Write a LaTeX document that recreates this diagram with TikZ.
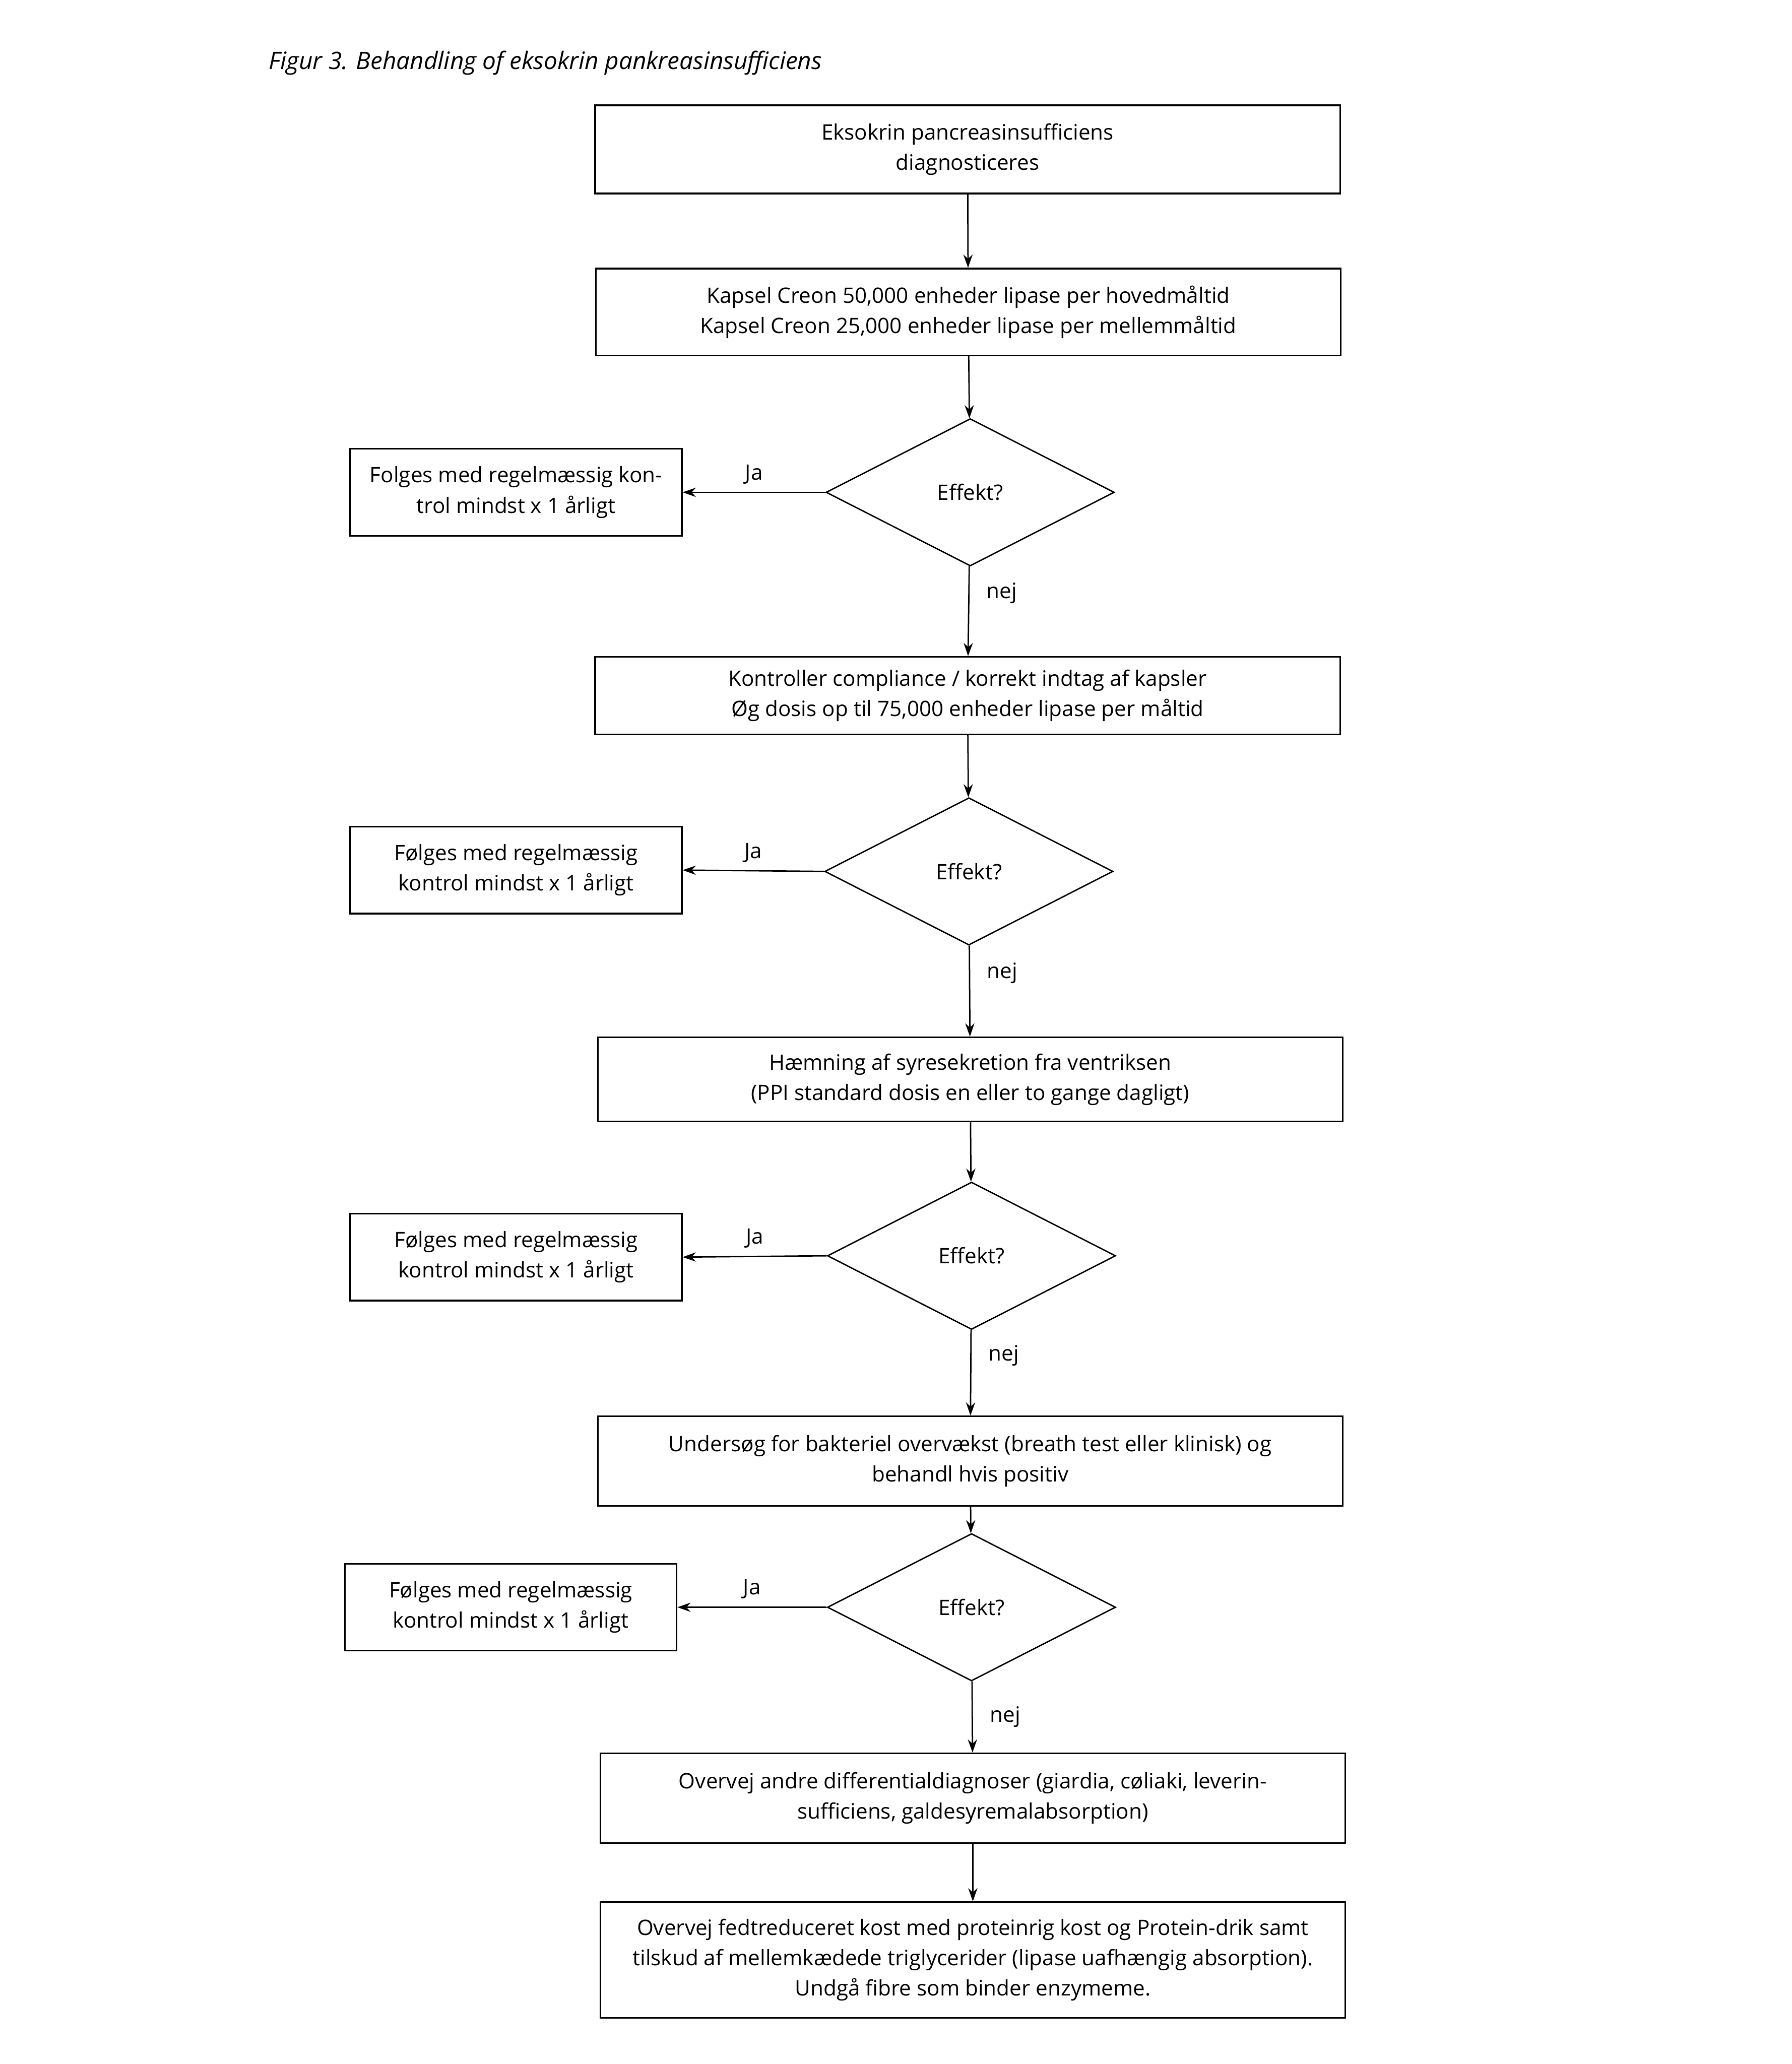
\documentclass[tikz,border=0pt]{standalone}
\usepackage{fontspec}
\setmainfont{Open Sans}
\usepackage{tikz}
\usetikzlibrary{shapes.geometric, arrows.meta, positioning, calc}
\tikzset{
    block_main/.style={rectangle, draw, line width=0.7pt, align=center, minimum width=11.32cm, inner sep=0pt, font=\fontsize{9.2}{13.1}\selectfont},
    block_side/.style={rectangle, draw, line width=0.7pt, align=center, minimum width=5.04cm, minimum height=1.32cm, inner sep=0pt, font=\fontsize{9.2}{13.1}\selectfont},
    decision/.style={diamond, draw, line width=0.6pt, minimum width=4.38cm, minimum height=2.24cm, inner sep=0pt, font=\fontsize{9.2}{13.1}\selectfont},
    arrow/.style={-{Stealth[length=2mm, width=1.4mm]}, line width=0.6pt},
    lbl/.style={font=\fontsize{9.2}{13.1}\selectfont}
}
\begin{document}
\begin{tikzpicture}[x=0.02cm, y=-0.02cm]
			\useasboundingbox (0,0) rectangle (1361,1568);
			% Title
			\node (title) [anchor=west, inner sep=0pt, font=\fontsize{10.4}{12}\selectfont\itshape] at (204,48) {Figur 3. Behandling of eksokrin pankreasinsufficiens};
			
			% Main column
			\node (diag) [block_main, minimum height=1.34cm] at (735,113.5) {Eksokrin pancreasinsufficiens\\diagnosticeres};
			
			\node (creon) [block_main, minimum height=1.32cm] at (735.5,237) {Kapsel Creon 50,000 enheder lipase per hovedmåltid\\Kapsel Creon 25,000 enheder lipase per mellemmåltid};
			
			\node (eff1) [decision] at (737,374) {Effekt?};
			
			\node (compl) [block_main, minimum height=1.18cm] at (735,528.5) {Kontroller compliance / korrekt indtag af kapsler\\Øg dosis op til 75,000 enheder lipase per måltid};
			
			\node (eff2) [decision] at (736,662) {Effekt?};
			
			\node (ppi) [block_main, minimum height=1.28cm] at (737,820) {Hæmning af syresekretion fra ventriksen\\(PPI standard dosis en eller to gange dagligt)};
			
			\node (eff3) [decision] at (738,954) {Effekt?};
			
			\node (bakt) [block_main, minimum height=1.36cm] at (737,1110) {Undersøg for bakteriel overvækst (breath test eller klinisk) og\\behandl hvis positiv};
			
			\node (eff4) [decision] at (738,1221) {Effekt?};
			
			\node (diff) [block_main, minimum height=1.36cm] at (739,1366) {Overvej andre differentialdiagnoser (giardia, cøliaki, leverin-\\sufficiens, galdesyremalabsorption)};
			
			\node (kost) [block_main, minimum height=1.76cm] at (739,1489) {Overvej fedtreduceret kost med proteinrig kost og Protein-drik samt\\tilskud af mellemkædede triglycerider (lipase uafhængig absorption).\\Undgå fibre som binder enzymeme.};
			
			% Side boxes
			\node (kontrol1) [block_side] at (392,374) {Folges med regelmæssig kon-\\trol mindst x 1 årligt};
			\node (kontrol2) [block_side] at (392,661) {Følges med regelmæssig\\kontrol mindst x 1 årligt};
			\node (kontrol3) [block_side] at (392,955) {Følges med regelmæssig\\kontrol mindst x 1 årligt};
			\node (kontrol4) [block_side] at (388,1221) {Følges med regelmæssig\\kontrol mindst x 1 årligt};
			
			% Connections
			\draw [arrow] (diag) -- (creon);
			\draw [arrow] (creon) -- (eff1);
			\draw [arrow] (eff1.west) -- node[lbl, above=0pt]{Ja} (kontrol1.east);
			\draw [arrow] (eff1) -- node[lbl, right=4pt, pos=0.3]{nej} (compl);
			
			\draw [arrow] (compl) -- (eff2);
			\draw [arrow] (eff2.west) -- node[lbl, above=0pt]{Ja} (kontrol2.east);
			\draw [arrow] (eff2) -- node[lbl, right=4pt, pos=0.3]{nej} (ppi);
			
			\draw [arrow] (ppi) -- (eff3);
			\draw [arrow] (eff3.west) -- node[lbl, above=0pt]{Ja} (kontrol3.east);
			\draw [arrow] (eff3) -- node[lbl, right=4pt, pos=0.3]{nej} (bakt);
			
			\draw [arrow] (bakt) -- (eff4);
			\draw [arrow] (eff4.west) -- node[lbl, above=0pt]{Ja} (kontrol4.east);
			\draw [arrow] (eff4) -- node[lbl, right=4pt, pos=0.5]{nej} (diff);
			
			\draw [arrow] (diff) -- (kost);
		\end{tikzpicture}
\end{document}
